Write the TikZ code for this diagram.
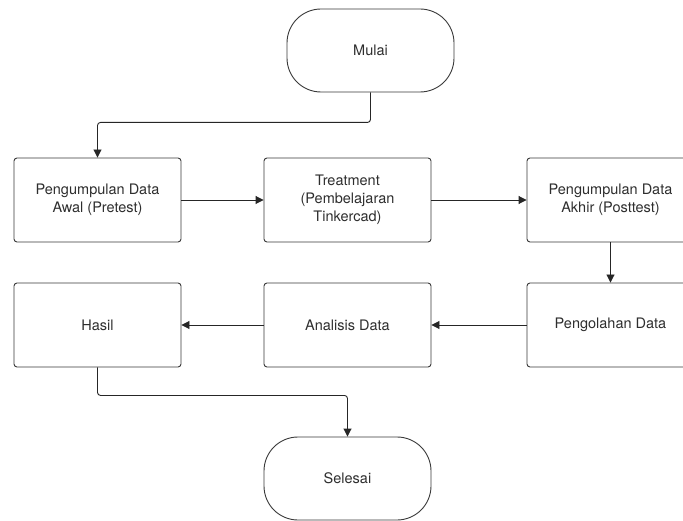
\documentclass[tikz,border=0pt]{standalone}
\usepackage{fontspec}
\setmainfont{TeX Gyre Heros}
\usetikzlibrary{arrows.meta}
\definecolor{edge}{HTML}{3A3A3A}
\definecolor{txt}{HTML}{2E2E2E}
\begin{document}
\begin{tikzpicture}[x=1pt,y=-1pt,
  every node/.style={font=\fontsize{14.5}{18}\selectfont, text=txt, align=center},
  procbox/.style={draw=edge, line width=0.9pt, rounded corners=3pt, minimum width=167pt, minimum height=84pt, inner sep=0pt},
  termbox/.style={draw=edge, line width=0.9pt, rounded corners=34pt, minimum width=167pt, minimum height=83pt, inner sep=0pt},
  flow/.style={draw=black!85, line width=0.9pt, -{Triangle[length=8pt,width=8pt]}, rounded corners=3pt}]
\useasboundingbox (0,0) rectangle (683,521);
\clip (0,0) rectangle (683,521);
\fill[white] (0,0) rectangle (683,521);
\node[termbox] (mulai) at (370.5,50.5) {Mulai};
\node[procbox] (awal) at (97.5,200) {Pengumpulan Data\\Awal (Pretest)};
\node[procbox] (treat) at (347.5,200) {Treatment\\(Pembelajaran\\Tinkercad)};
\node[procbox] (akhir) at (610.5,200) {Pengumpulan Data\\Akhir (Posttest)};
\node[procbox] (hasil) at (97.5,325) {Hasil};
\node[procbox] (anal) at (347.5,325) {Analisis Data};
\node[procbox] (olah) at (610.5,325) {Pengolahan Data};
\node[termbox] (selesai) at (347.5,478.5) {Selesai};
\draw[flow] (mulai.south) -- ++(0,30) -| (awal.north);
\draw[flow] (awal.east) -- (treat.west);
\draw[flow] (treat.east) -- (akhir.west);
\draw[flow] (akhir.south) -- (olah.north);
\draw[flow] (olah.west) -- (anal.east);
\draw[flow] (anal.west) -- (hasil.east);
\draw[flow] (hasil.south) -- ++(0,28) -| (selesai.north);
\end{tikzpicture}
\end{document}
